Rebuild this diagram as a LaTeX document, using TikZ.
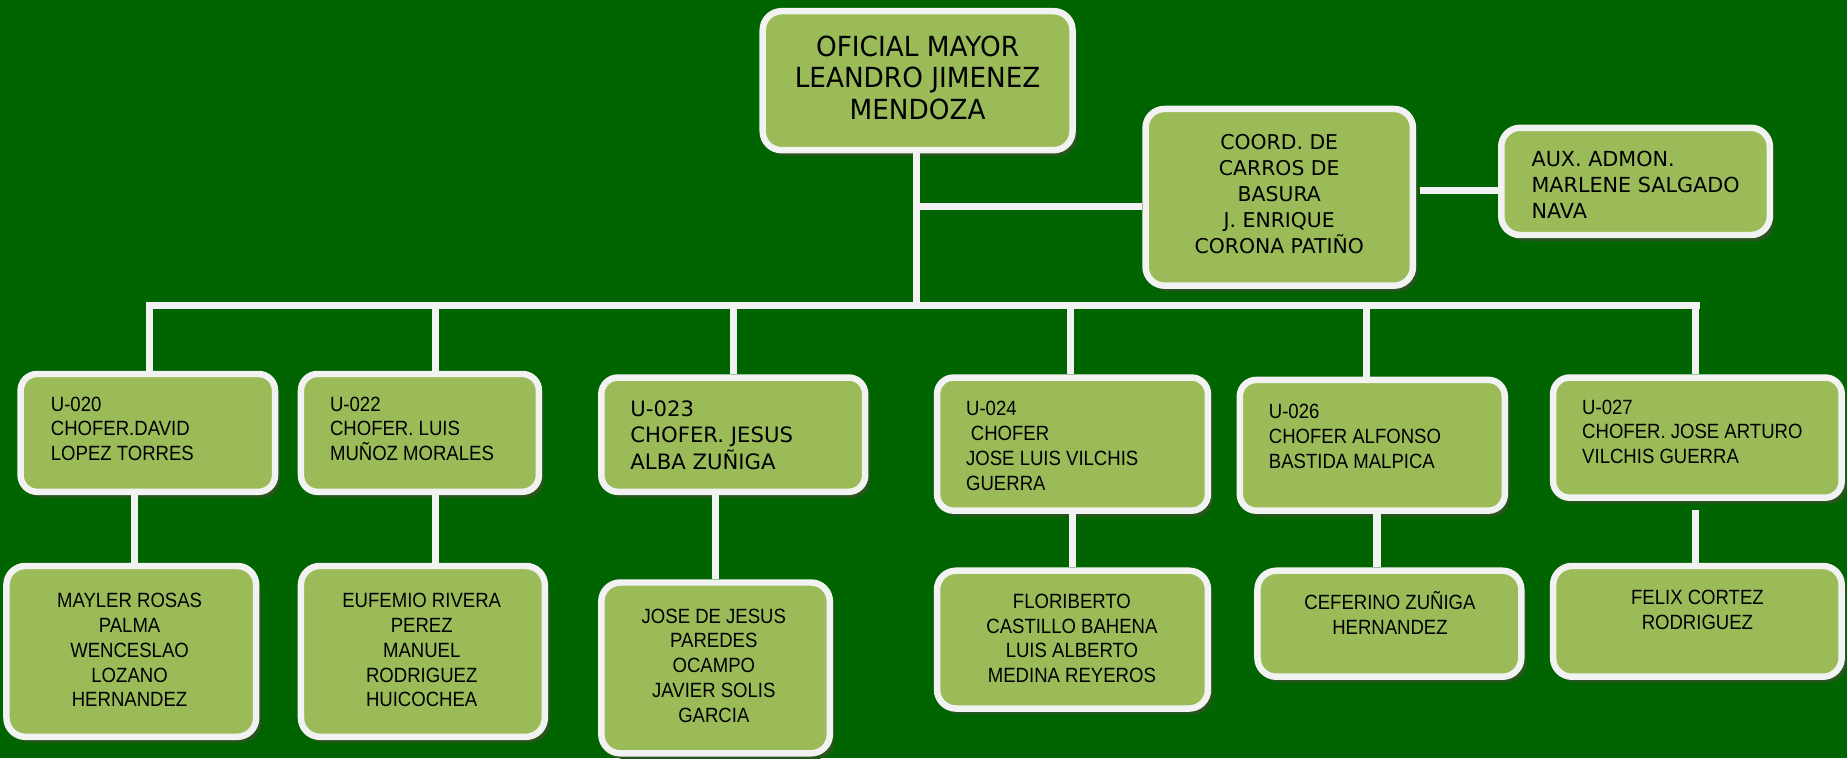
\documentclass[tikz,border=0pt]{standalone}
\usepackage{fontspec}
\setmainfont{Liberation Sans}
\newfontfamily\narrowfont[FakeStretch=0.9]{Liberation Sans}
\newfontfamily\wfont[FakeStretch=0.95]{DejaVu Sans}
\newfontfamily\vfont{DejaVu Sans}
\usetikzlibrary{shadows}
\definecolor{bg}{RGB}{0,100,0}
\definecolor{boxfill}{RGB}{155,187,89}
\definecolor{boxline}{RGB}{242,242,242}
\definecolor{shade}{RGB}{40,85,30}
\begin{document}
\begin{tikzpicture}[x=1pt,y=-1pt,
  orgbox/.style={draw=boxline, line width=5.5pt, fill=boxfill, rounded corners=16pt, inner sep=0pt,
    drop shadow={shadow xshift=4pt, shadow yshift=-5pt, fill=shade, opacity=1}},
  conn/.style={draw=boxline, line width=6pt},
  ntext/.style={font=\narrowfont\fontsize{17.5}{21}\selectfont, text=black, inner sep=0pt},
  vtext/.style={font=\vfont\fontsize{17.3}{22}\selectfont, text=black, inner sep=0pt},
  ttext/.style={font=\wfont\fontsize{23.5}{27}\selectfont, text=black, inner sep=0pt, align=center}
]
\fill[bg] (0,0) rectangle (1568,643.5);
\useasboundingbox (0,0) rectangle (1568,643.5);

% boxes
\node[orgbox, minimum width=263pt, minimum height=118pt] (top) at (779,68.5) {};
\node[orgbox, minimum width=227pt, minimum height=150pt] (coord) at (1086,167.5) {};
\node[orgbox, minimum width=228pt, minimum height=91pt] (aux) at (1388.5,154) {};
\node[orgbox, rounded corners=14pt, minimum width=216pt, minimum height=100pt] (u20) at (125.5,367.5) {};
\node[orgbox, rounded corners=14pt, minimum width=202pt, minimum height=100pt] (u22) at (356.5,367.5) {};
\node[orgbox, rounded corners=14pt, minimum width=224pt, minimum height=97pt] (u23) at (622.5,369) {};
\node[orgbox, rounded corners=14pt, minimum width=230pt, minimum height=113pt] (u24) at (910.5,377) {};
\node[orgbox, rounded corners=14pt, minimum width=225pt, minimum height=111pt] (u26) at (1165,378) {};
\node[orgbox, rounded corners=14pt, minimum width=245pt, minimum height=102pt] (u27) at (1441,371.5) {};
\node[orgbox, minimum width=212pt, minimum height=145pt] (m20) at (111.5,553) {};
\node[orgbox, minimum width=207pt, minimum height=145pt] (m22) at (359,553) {};
\node[orgbox, minimum width=194pt, minimum height=145pt] (m23) at (607.5,567) {};
\node[orgbox, minimum width=230pt, minimum height=117pt] (m24) at (910.5,543) {};
\node[orgbox, minimum width=224pt, minimum height=90pt] (m26) at (1179.5,529.5) {};
\node[orgbox, minimum width=245pt, minimum height=94pt] (m27) at (1441,527.5) {};

% connectors
\coordinate (busL) at (127,259);
\coordinate (busR) at (1440,259);
\coordinate (jc) at (778,175);
\coordinate (ja) at (0,162);
\draw[conn, line cap=rect] (busL) -- (busR);
\draw[conn] ([xshift=-1pt]top.south) -- ([xshift=-1pt]top.south |- busL);
\draw[conn] (jc) -- (jc -| coord.west);
\draw[conn] ([xshift=3pt]coord.east |- ja) -- (aux.west |- ja);
\draw[conn] ([xshift=1.5pt]u20.north) -- ([xshift=1.5pt]u20.north |- busL);
\draw[conn] ([xshift=13.5pt]u22.north) -- ([xshift=13.5pt]u22.north |- busL);
\draw[conn] (u23.north) -- (u23.north |- busL);
\draw[conn] ([xshift=-2pt]u24.north) -- ([xshift=-2pt]u24.north |- busL);
\draw[conn] ([xshift=-5pt]u26.north) -- ([xshift=-5pt]u26.north |- busL);
\draw[conn] ([xshift=-2pt]u27.north) -- ([xshift=-2pt]u27.north |- busL);
\draw[conn] ([xshift=-11pt]u20.south) -- ([xshift=-11pt]u20.south |- m20.north);
\draw[conn] ([xshift=13.5pt]u22.south) -- ([xshift=13.5pt]u22.south |- m22.north);
\draw[conn] (m23.north) -- (m23.north |- u23.south);
\draw[conn] (m24.north) -- (m24.north |- u24.south);
\draw[conn] ([xshift=4pt]u26.south) -- ([xshift=4pt]u26.south |- m26.north);
\draw[conn] ([xshift=-2pt,yshift=-7.5pt]u27.south) -- ([xshift=-2pt]u27.south |- m27.north);

% texts
\node[ttext] (ttop) at (779,66) {OFICIAL MAYOR\\LEANDRO JIMENEZ\\MENDOZA};
\node[vtext, align=center] (tcoord) at (1086,165) {COORD. DE\\CARROS DE\\BASURA\\J. ENRIQUE\\CORONA PATIÑO};
\node[vtext, font=\vfont\fontsize{17.6}{22}\selectfont, align=left, anchor=west] (taux) at (1300,157) {AUX. ADMON.\\MARLENE SALGADO\\NAVA};
\node[ntext, align=left, anchor=west] (t20) at (43,364) {U-020\\CHOFER.DAVID\\LOPEZ TORRES};
\node[ntext, align=left, anchor=west] (t22) at (280,364) {U-022\\CHOFER. LUIS\\MUÑOZ MORALES};
\node[vtext, font=\vfont\fontsize{18}{22.5}\selectfont, align=left, anchor=west] (t23) at (535,369.5) {U-023\\CHOFER. JESUS\\ALBA ZUÑIGA};
\node[ntext, align=left, anchor=west] (t24) at (820,378.5) {U-024\\\hspace*{4pt}CHOFER\\JOSE LUIS VILCHIS\\GUERRA};
\node[ntext, align=left, anchor=west] (t26) at (1077,370.5) {U-026\\CHOFER ALFONSO\\BASTIDA MALPICA};
\node[ntext, align=left, anchor=west] (t27) at (1343,366.5) {U-027\\CHOFER. JOSE ARTURO\\VILCHIS GUERRA};
\node[ntext, align=center] (tm20) at (110,552) {MAYLER ROSAS\\PALMA\\WENCESLAO\\LOZANO\\HERNANDEZ};
\node[ntext, align=center] (tm22) at (358,552) {EUFEMIO RIVERA\\PEREZ\\MANUEL\\RODRIGUEZ\\HUICOCHEA};
\node[ntext, align=center] (tm23) at (606,565) {JOSE DE JESUS\\PAREDES\\OCAMPO\\JAVIER SOLIS\\GARCIA};
\node[ntext, align=center] (tm24) at (910,542) {FLORIBERTO\\CASTILLO BAHENA\\LUIS ALBERTO\\MEDINA REYEROS};
\node[ntext, align=center] (tm26) at (1180,520.5) {CEFERINO ZUÑIGA\\HERNANDEZ};
\node[ntext, align=center] (tm27) at (1441,517.5) {FELIX CORTEZ\\RODRIGUEZ};
\end{tikzpicture}
\end{document}
